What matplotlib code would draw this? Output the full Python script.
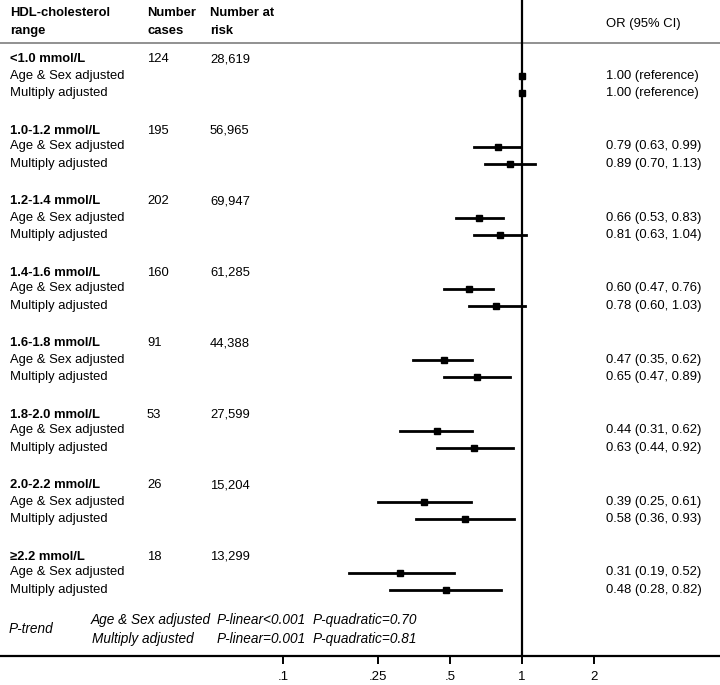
import numpy as np
import matplotlib

matplotlib.use("Agg")
import matplotlib.pyplot as plt

plt.rcParams["font.family"] = ["Liberation Sans", "DejaVu Sans"]
plt.rcParams["font.size"] = 9.4

# data
ranges = ["<1.0 mmol/L", "1.0-1.2 mmol/L", "1.2-1.4 mmol/L", "1.4-1.6 mmol/L",
          "1.6-1.8 mmol/L", "1.8-2.0 mmol/L", "2.0-2.2 mmol/L", "\u22652.2 mmol/L"]
cases = [124, 195, 202, 160, 91, 53, 26, 18]
at_risk = ["28,619", "56,965", "69,947", "61,285", "44,388", "27,599", "15,204", "13,299"]

age_or = [1.00, 0.79, 0.66, 0.60, 0.47, 0.44, 0.39, 0.31]
age_lo = [1.00, 0.63, 0.53, 0.47, 0.35, 0.31, 0.25, 0.19]
age_hi = [1.00, 0.99, 0.83, 0.76, 0.62, 0.62, 0.61, 0.52]

mult_or = [1.00, 0.89, 0.81, 0.78, 0.65, 0.63, 0.58, 0.48]
mult_lo = [1.00, 0.70, 0.63, 0.60, 0.47, 0.44, 0.36, 0.28]
mult_hi = [1.00, 1.13, 1.04, 1.03, 0.89, 0.92, 0.93, 0.82]

ticks = [0.1, 0.25, 0.5, 1, 2]
tick_labels = [".1", ".25", ".5", "1", "2"]

W, H = 720, 685
BOTTOM = 656           # pixel row of the x axis line
K = 72 / np.log(2)     # pixels per ln unit
X_ONE = 522            # pixel column of OR = 1

fig = plt.figure(figsize=(W / 100, H / 100), dpi=100)
ax = fig.add_axes([0, 1 - BOTTOM / H, 1, BOTTOM / H])
ax.set_xscale("log")
ax.set_xlim(np.exp(-X_ONE / K), np.exp((W - X_ONE) / K))
ax.set_ylim(BOTTOM, 0)

for s in ["top", "left", "right"]:
    ax.spines[s].set_visible(False)
ax.spines["bottom"].set_linewidth(1.6)
ax.set_yticks([])
ax.xaxis.set_minor_locator(matplotlib.ticker.NullLocator())
ax.set_xticks(ticks)
ax.set_xticklabels(tick_labels)
ax.tick_params(axis="x", length=6, width=1.4, pad=5, labelsize=9.5)

ax.axvline(1, color="black", lw=1.6, zorder=3)
ax.axhline(43, color="#888888", lw=1.3)


def px(x):
    return x / W


tr = ax.get_yaxis_transform()  # x in axes fraction, y in data (pixels)

# header
ax.text(px(10), 13, "HDL-cholesterol", transform=tr, va="center", fontweight="bold")
ax.text(px(10), 31, "range", transform=tr, va="center", fontweight="bold")
ax.text(px(147), 13, "Number", transform=tr, va="center", fontweight="bold")
ax.text(px(147), 31, "cases", transform=tr, va="center", fontweight="bold")
ax.text(px(210), 13, "Number at", transform=tr, va="center", fontweight="bold")
ax.text(px(210), 31, "risk", transform=tr, va="center", fontweight="bold")
ax.text(px(606), 24, "OR (95% CI)", transform=tr, va="center")


def fmt(o, lo, hi):
    if o == 1.0 and lo == 1.0 and hi == 1.0:
        return "1.00 (reference)"
    return f"{o:.2f} ({lo:.2f}, {hi:.2f})"


for i in range(len(ranges)):
    g = 59.5 + 71 * i
    ya, ym = g + 16, g + 33.5
    ax.text(px(10), g, ranges[i], transform=tr, va="center", fontweight="bold")
    ax.text(px(147), g, str(cases[i]), transform=tr, va="center")
    ax.text(px(210), g, at_risk[i], transform=tr, va="center")
    ax.text(px(10), ya, "Age & Sex adjusted", transform=tr, va="center")
    ax.text(px(10), ym, "Multiply adjusted", transform=tr, va="center")

    ax.plot([age_lo[i], age_hi[i]], [ya, ya], color="black", lw=2, zorder=4)
    ax.plot([mult_lo[i], mult_hi[i]], [ym, ym], color="black", lw=2, zorder=4)
    ax.plot([age_or[i]], [ya], marker="s", ms=4.8, color="black", zorder=5)
    ax.plot([mult_or[i]], [ym], marker="s", ms=4.8, color="black", zorder=5)

    ax.text(px(606), ya, fmt(age_or[i], age_lo[i], age_hi[i]), transform=tr, va="center")
    ax.text(px(606), ym, fmt(mult_or[i], mult_lo[i], mult_hi[i]), transform=tr, va="center")

# p-trend block
it = dict(transform=tr, va="center", style="italic", fontsize=9.8)
ax.text(px(9), 629, "P-trend", **it)
ax.text(px(91), 620, "Age & Sex adjusted", **it)
ax.text(px(217), 620, "P-linear<0.001", **it)
ax.text(px(313), 620, "P-quadratic=0.70", **it)
ax.text(px(92), 639, "Multiply adjusted", **it)
ax.text(px(217), 639, "P-linear=0.001", **it)
ax.text(px(313), 639, "P-quadratic=0.81", **it)

fig.savefig("out.png", dpi=100)
plt.close(fig)
